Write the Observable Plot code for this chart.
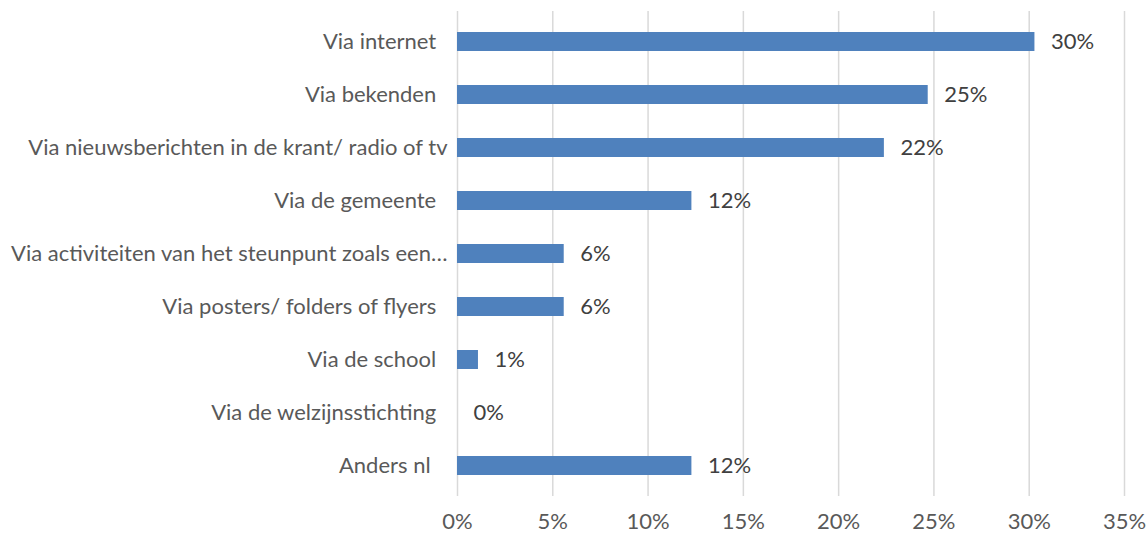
<!DOCTYPE html>
<html>
<head>
<meta charset="utf-8">
<script src="https://cdn.jsdelivr.net/npm/d3@7"></script>
<script src="https://cdn.jsdelivr.net/npm/@observablehq/plot@0.6"></script>
<style>
  html, body { margin: 0; padding: 0; background: #fff; }
  #chart svg text { white-space: pre; }
</style>
</head>
<body>
<div id="chart"></div>
<script>
const categories = [
  "Via internet  ",
  "Via bekenden  ",
  "Via nieuwsberichten in de krant/ radio of tv",
  "Via de gemeente  ",
  "Via activiteiten van het steunpunt zoals een…",
  "Via posters/ folders of flyers  ",
  "Via de school  ",
  "Via de welzijnsstichting  ",
  "Anders nl   "
];
const values = [30.3, 24.7, 22.4, 12.3, 5.6, 5.6, 1.1, 0, 12.3];
const xTicks = [0, 5, 10, 15, 20, 25, 30, 35];

const data = categories.map((c, i) => ({category: c, value: values[i]}));

const chart = Plot.plot({
  width: 1147,
  height: 536,
  marginLeft: 457,
  marginRight: 23,
  marginTop: 11,
  marginBottom: 40,
  style: {fontFamily: "Lato, sans-serif", fontSize: "22px", color: "#595959", background: "#fff"},
  x: {domain: [0, 35], ticks: xTicks, tickFormat: d => d + "%", tickSize: 0, tickPadding: 17, label: null},
  y: {domain: categories, paddingInner: 0.645, paddingOuter: 0.3225, tickSize: 0, tickPadding: 10, label: null},
  marks: [
    Plot.gridX(xTicks, {stroke: "#d9d9d9", strokeOpacity: 1, strokeWidth: 1.5}),
    Plot.barX(data, {x: "value", y: "category", fill: "#4F81BD"}),
    Plot.text(data, {x: "value", y: "category", text: d => Math.round(d.value) + "%", textAnchor: "start", dx: 16, fill: "#404040", fontSize: 22})
  ]
});
document.getElementById("chart").appendChild(chart);
</script>
</body>
</html>
